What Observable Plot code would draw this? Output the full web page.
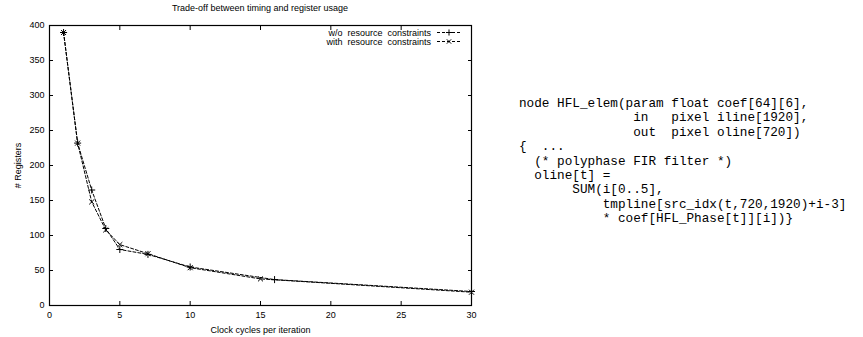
<!DOCTYPE html>
<html>
<head>
<meta charset="utf-8">
<script src="https://cdn.jsdelivr.net/npm/d3@7"></script>
<script src="https://cdn.jsdelivr.net/npm/@observablehq/plot@0.6"></script>
<style>
  html, body { margin: 0; padding: 0; background: #fff; }
  #wrap { position: relative; width: 863px; height: 337px; overflow: hidden; font-family: "Liberation Sans", Arial, sans-serif; }
  #chart { position: absolute; left: 0; top: 0; }
  #title { position: absolute; left: 0; width: 520px; top: 3px; text-align: center; font-size: 9px; }
  #legend { position: absolute; left: 250px; top: 28px; font-size: 9px; }
  #legend .row { display: flex; align-items: center; justify-content: flex-end; height: 9px; }
  #legend svg { margin-left: 4px; }
  #code { position: absolute; left: 519px; top: 97px; margin: 0; font-family: "Liberation Mono", "Courier New", monospace; font-size: 12.7px; line-height: 14.4px; color: #000; white-space: pre; }
</style>
</head>
<body>
<div id="wrap">
  <div id="chart"></div>
  <div id="title">Trade-off between timing and register usage</div>
  <div id="legend"></div>
  <pre id="code"></pre>
</div>
<script>
// ---- data ----
const seriesNames = ["w/o resource constraints", "with resource constraints"];
const cyclesWo = [1, 2, 3, 4, 5, 7, 10, 16, 30];
const regsWo   = [390, 232, 165, 110, 80, 73, 55, 37, 20];
const cyclesWith = [1, 2, 3, 4, 5, 7, 10, 15, 30];
const regsWith   = [390, 232, 148, 108, 87, 74, 54, 38, 19];
const xTicks = [0, 5, 10, 15, 20, 25, 30];
const yTicks = [0, 50, 100, 150, 200, 250, 300, 350, 400];
const symbols = ["plus", "times"];
const codeLines = [
  "node HFL_elem(param float coef[64][6],",
  "               in   pixel iline[1920],",
  "               out  pixel oline[720])",
  "{  ...",
  "  (* polyphase FIR filter *)",
  "  oline[t] =",
  "       SUM(i[0..5],",
  "           tmpline[src_idx(t,720,1920)+i-3]",
  "           * coef[HFL_Phase[t]][i])}"
];

const data = [
  ...cyclesWo.map((x, i) => ({series: seriesNames[0], x, y: regsWo[i]})),
  ...cyclesWith.map((x, i) => ({series: seriesNames[1], x, y: regsWith[i]}))
];

const font = "Liberation Sans, Arial, sans-serif";
const chart = Plot.plot({
  width: 480,
  height: 337,
  marginLeft: 49,
  marginRight: 9,
  marginTop: 25,
  marginBottom: 32,
  style: {fontFamily: font, fontSize: "9px", color: "#000", background: "#fff"},
  x: {domain: [0, 30], ticks: xTicks},
  y: {domain: [0, 400], ticks: yTicks},
  symbol: {type: "identity"},
  marks: [
    Plot.axisX({ticks: xTicks, tickSize: -4, tickPadding: 10, label: "Clock cycles per iteration", labelAnchor: "center", labelArrow: "none", labelOffset: 27}),
    Plot.axisX({anchor: "top", ticks: xTicks, tickSize: -4, tickFormat: () => "", label: null}),
    Plot.axisY({ticks: yTicks, tickSize: -4, tickPadding: 9, label: "# Registers", labelAnchor: "center", labelArrow: "none", labelOffset: 35}),
    Plot.axisY({anchor: "right", ticks: yTicks, tickSize: -4, tickFormat: () => "", label: null}),
    Plot.frame({stroke: "#000", strokeWidth: 1.2}),
    Plot.line(data, {x: "x", y: "y", z: "series", stroke: "#000", strokeWidth: 1, strokeDasharray: "3,2"}),
    Plot.dot(data, {x: "x", y: "y", symbol: d => symbols[seriesNames.indexOf(d.series)], r: 2.4, stroke: "#000", strokeWidth: 1, fill: "none"})
  ]
});
document.getElementById("chart").appendChild(chart);

// legend (gnuplot-style key)
const legend = document.getElementById("legend");
seriesNames.forEach((name, i) => {
  const row = document.createElement("div");
  row.className = "row";
  const span = document.createElement("span");
  span.textContent = name.replace(/ /g, "\u00a0\u00a0");
  row.appendChild(span);
  const s = d3.create("svg").attr("width", 28).attr("height", 9);
  s.append("line").attr("x1", 2).attr("x2", 26).attr("y1", 4.5).attr("y2", 4.5)
    .attr("stroke", "#000").attr("stroke-dasharray", "3,2");
  s.append("path").attr("d", d3.symbol(i === 0 ? d3.symbolPlus : d3.symbolTimes, 14)())
    .attr("transform", "translate(14,4.5)").attr("stroke", "#000").attr("fill", "none");
  row.appendChild(s.node());
  legend.appendChild(row);
});
legend.style.width = "213px";

document.getElementById("code").textContent = codeLines.join("\n");
</script>
</body>
</html>
